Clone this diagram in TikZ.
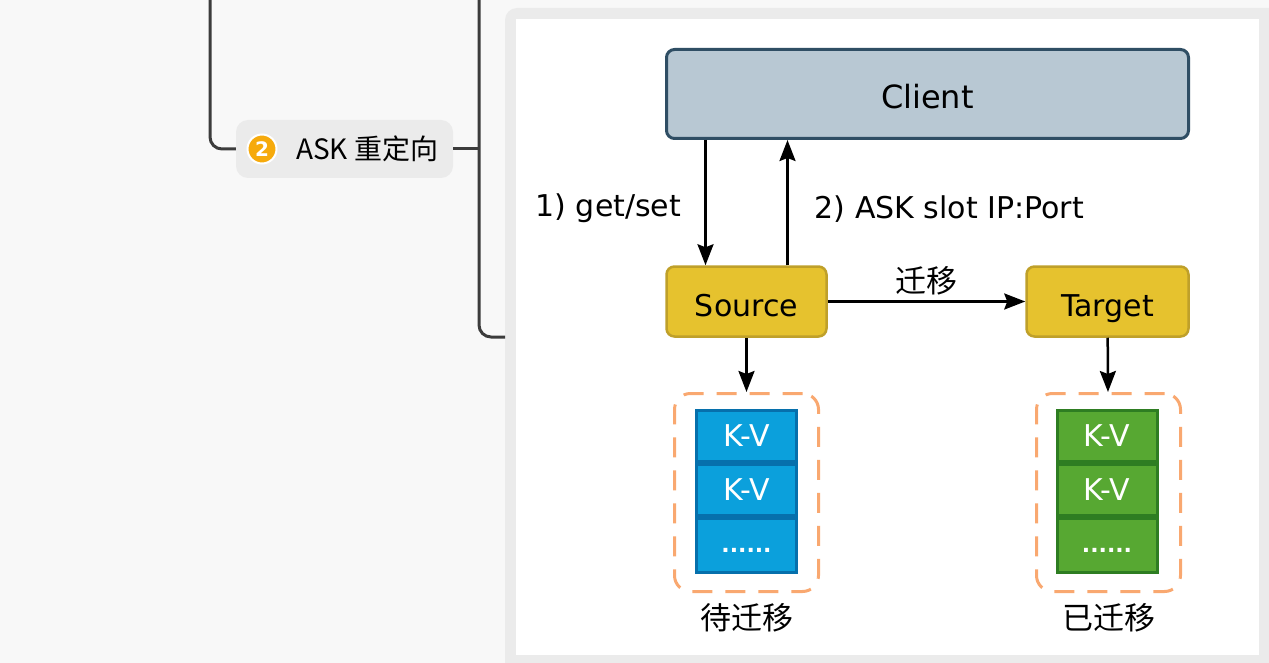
\documentclass[tikz,border=0pt]{standalone}
\usepackage{fontspec}
\setmainfont{DejaVu Sans}
\newfontfamily\cjk{Noto Sans CJK SC}
\usetikzlibrary{arrows.meta}

\definecolor{pagebg}{HTML}{F8F8F8}
\definecolor{framegray}{HTML}{EBEBEB}
\definecolor{treegray}{HTML}{3C3C3C}
\definecolor{badge}{HTML}{F6AA0C}
\definecolor{clientfill}{HTML}{B8C8D3}
\definecolor{clientline}{HTML}{2F4E64}
\definecolor{nodefill}{HTML}{E6C22E}
\definecolor{nodeline}{HTML}{BFA02A}
\definecolor{kvblue}{HTML}{0BA0DC}
\definecolor{kvblueline}{HTML}{0670AC}
\definecolor{kvgreen}{HTML}{57A832}
\definecolor{kvgreenline}{HTML}{2E7D22}
\definecolor{dashorange}{HTML}{F9A870}

\begin{document}
\begin{tikzpicture}[x=1pt, y=-1pt,
    branch/.style={draw=treegray, line width=3pt, rounded corners=12pt},
    topic/.style={fill=framegray, rounded corners=12pt, minimum width=217pt, minimum height=58pt},
    box/.style={draw, line width=2.5pt, rounded corners=8pt, font=\fontsize{30}{34}\selectfont,
                text height=30pt, text depth=1pt},
    cell/.style={draw, line width=3pt, minimum width=100pt, minimum height=51pt,
                 text=white, font=\fontsize{30}{34}\selectfont},
    group/.style={draw=dashorange, line width=3pt, dash pattern=on 20pt off 13pt,
                  rounded corners=16pt, minimum width=144pt, minimum height=198pt},
    arr/.style={-{Stealth[length=21pt,width=16pt,inset=3pt]}, line width=2.5pt},
    lbl/.style={font=\fontsize{30}{34}\selectfont, inner sep=2pt},
    cjklbl/.style={font=\cjk\fontsize{31}{34}\selectfont, inner sep=2pt}
]
\useasboundingbox[fill=pagebg] (0,0) rectangle (1269,663);

% frame around the diagram
\fill[framegray, rounded corners=12pt] (505,8) rectangle (1290,690);
\fill[white] (516,19) rectangle (1259,655);
\coordinate (panel) at (505,337);

% mind map branch
\node[topic] (topic) at (344.5,149) {};
\node[circle, fill=badge, draw=white, line width=2pt, minimum size=29pt, inner sep=0pt,
      text=white, font=\bfseries\fontsize{20}{20}\selectfont] (num) at (262,149) {2};
\node[anchor=west, inner sep=0pt, font=\cjk\fontsize{28}{30}\selectfont] (title) at (296,149) {ASK 重定向};

\draw[branch] (210,0) |- (topic.west);
\draw[branch] (topic.east) -- (479,149);
\draw[branch] (479,0) |- (panel);

% client and nodes
\node[box, fill=clientfill, draw=clientline, line width=3pt, minimum width=522pt, minimum height=89pt,
      font=\fontsize{32}{36}\selectfont] (cli) at (927.5,94) {Client};
\node[box, fill=nodefill, draw=nodeline, minimum width=160pt, minimum height=70pt] (src) at (746.5,301.5) {Source};
\node[box, fill=nodefill, draw=nodeline, minimum width=162pt, minimum height=70pt] (tgt) at (1107.5,301.5) {Target};

% slot groups
\node[group] (pend) at (746.5,492.5) {};
\node[cell, fill=kvblue, draw=kvblueline] (p1) at (746.5,436) {K-V};
\node[cell, fill=kvblue, draw=kvblueline] (p2) at (746.5,490) {K-V};
\node[cell, fill=kvblue, draw=kvblueline, minimum height=54pt] (p3) at (746.5,545.5)
    {\bfseries\fontsize{22}{22}\selectfont\raisebox{-13pt}{......}};

\node[group] (done) at (1108.5,492.5) {};
\node[cell, fill=kvgreen, draw=kvgreenline] (d1) at (1107,436) {K-V};
\node[cell, fill=kvgreen, draw=kvgreenline] (d2) at (1107,490) {K-V};
\node[cell, fill=kvgreen, draw=kvgreenline, minimum height=54pt] (d3) at (1107,545.5)
    {\bfseries\fontsize{22}{22}\selectfont\raisebox{-13pt}{......}};

\node[cjklbl, below=8pt] at (pend.south) {待迁移};
\node[cjklbl, below=8pt] at (done.south) {已迁移};

% requests
\draw[arr] ([xshift=-41pt]src.north |- cli.south) -- node[lbl, left=21pt, yshift=-6pt]{1) get/set} ([xshift=-41pt]src.north);
\draw[arr] ([xshift=41pt]src.north) -- node[lbl, right=24pt, yshift=-6pt]{2) ASK slot IP:Port} ([xshift=41pt]src.north |- cli.south);
\draw[arr] (src) -- node[cjklbl, above=3pt]{迁移} (tgt);
\draw[arr] (src) -- (pend);
\draw[arr] (tgt) -- (done);

\end{tikzpicture}
\end{document}
